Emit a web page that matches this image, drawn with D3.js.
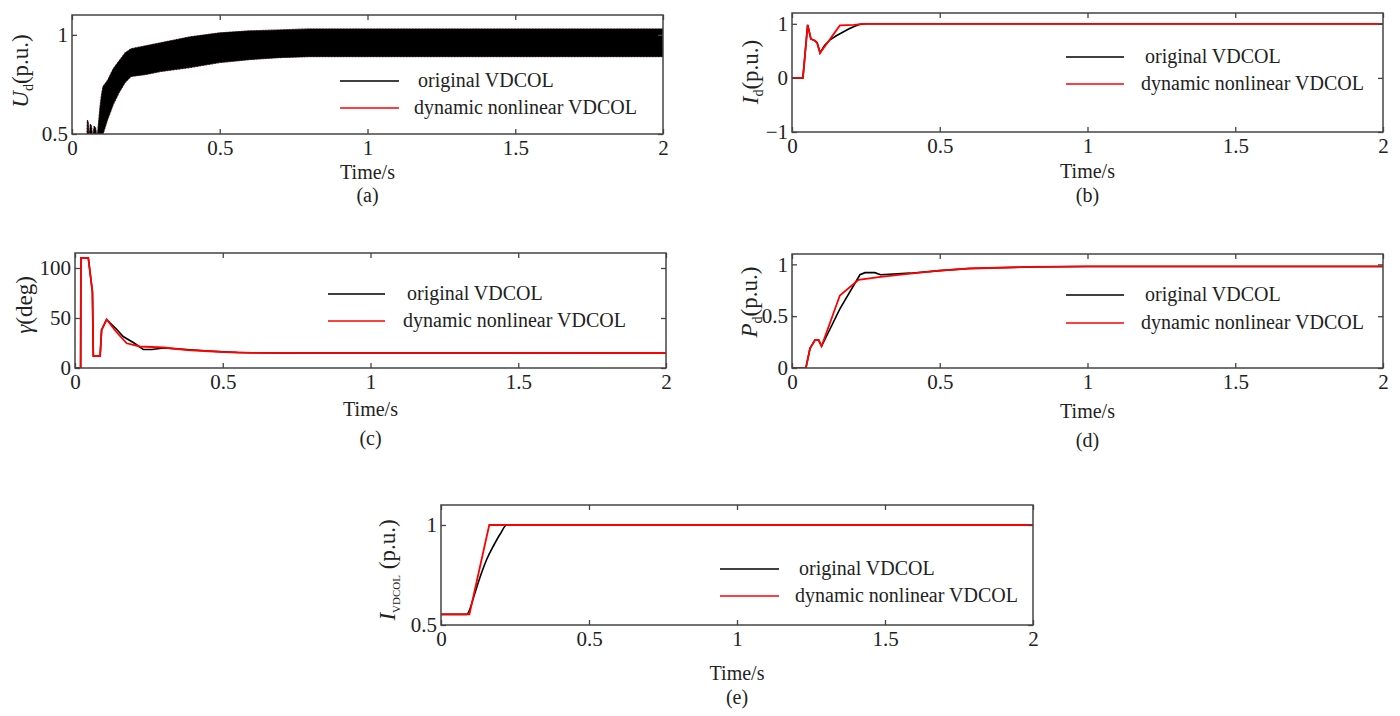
<!DOCTYPE html>
<html>
<head>
<meta charset="utf-8">
<title>VDCOL comparison</title>
<style>
  body{ margin:0; background:#fff; }
  svg{ display:block; font-family:"Liberation Serif","Times New Roman",serif; }
  .frame{ fill:none; stroke:#444; stroke-width:1.5px; }
  .tick line{ stroke:#444; stroke-width:1.3px; }
  .tick text{ fill:#222; font-size:21px; }
  .lbl{ fill:#222; font-size:20px; }
  .leg{ fill:#222; font-size:20px; }
</style>
</head>
<body>
<div id="chart"></div>
<script src="https://d3js.org/d3.v7.min.js"></script>
<script>
// shared time axis + legend
var timeTicks = [0, 0.5, 1, 1.5, 2];
var seriesNames = ["original VDCOL", "dynamic nonlinear VDCOL"];

// (a) Ud - fast ripple band, kept as upper / lower envelope
var udTime  = [0.05, 0.052, 0.055, 0.058, 0.062, 0.066, 0.07, 0.075, 0.08, 0.085, 0.09, 0.095, 0.1, 0.105, 0.12, 0.14, 0.16, 0.18, 0.2, 0.25, 0.3, 0.35, 0.4, 0.5, 0.6, 0.7, 0.8, 1.0, 1.5, 2];
var udUpper = [0.45, 0.57, 0.56, 0.48, 0.55, 0.54, 0.48, 0.54, 0.53, 0.48, 0.56, 0.64, 0.7, 0.74, 0.77, 0.83, 0.87, 0.91, 0.93, 0.945, 0.96, 0.975, 0.99, 1.01, 1.02, 1.025, 1.03, 1.03, 1.03, 1.03];
var udLower = [0.45, 0.45, 0.45, 0.45, 0.45, 0.45, 0.45, 0.45, 0.45, 0.45, 0.45, 0.45, 0.45, 0.5, 0.57, 0.65, 0.71, 0.76, 0.79, 0.8, 0.815, 0.825, 0.835, 0.86, 0.875, 0.885, 0.89, 0.89, 0.89, 0.89];

// (b) Id
var idTimeO = [0, 0.037, 0.053, 0.064, 0.077, 0.085, 0.095, 0.11, 0.13, 0.15, 0.17, 0.19, 0.21, 0.23, 0.25, 2];
var idOrig  = [0, 0, 0.98, 0.72, 0.69, 0.65, 0.46, 0.6, 0.71, 0.78, 0.84, 0.9, 0.95, 0.99, 1.0, 1.0];
var idTimeR = [0, 0.037, 0.053, 0.064, 0.077, 0.085, 0.095, 0.162, 0.21, 0.24, 2];
var idRed   = [0, 0, 0.98, 0.72, 0.69, 0.65, 0.46, 0.97, 0.98, 1.0, 1.0];

// (c) gamma
var gTimeO = [0, 0.019, 0.02, 0.045, 0.059, 0.062, 0.085, 0.09, 0.107, 0.14, 0.163, 0.2, 0.231, 0.26, 0.3, 0.35, 0.45, 0.55, 0.7, 1, 2];
var gOrig  = [0, 0, 110, 110, 76, 12, 12, 38, 48.5, 39, 31.5, 25, 18.5, 18.5, 20, 19, 17, 15.5, 15, 15, 15];
var gTimeR = [0, 0.019, 0.02, 0.045, 0.059, 0.062, 0.085, 0.09, 0.107, 0.14, 0.175, 0.22, 0.3, 0.38, 0.5, 0.6, 0.8, 2];
var gRed   = [0, 0, 110, 110, 76, 12, 12, 38, 48.5, 36, 24.7, 21.5, 20.5, 18, 16, 15.2, 14.8, 15];

// (d) Pd
var pTimeO = [0, 0.047, 0.061, 0.078, 0.09, 0.1, 0.162, 0.23, 0.247, 0.28, 0.3, 0.4, 0.5, 0.6, 0.8, 1, 2];
var pOrig  = [0, 0, 0.19, 0.27, 0.27, 0.21, 0.57, 0.9, 0.92, 0.92, 0.9, 0.915, 0.94, 0.96, 0.975, 0.98, 0.98];
var pTimeR = [0, 0.047, 0.061, 0.078, 0.09, 0.1, 0.162, 0.225, 0.3, 0.4, 0.5, 0.6, 0.8, 1, 2];
var pRed   = [0, 0, 0.19, 0.27, 0.27, 0.21, 0.7, 0.85, 0.88, 0.91, 0.94, 0.96, 0.975, 0.98, 0.98];

// (e) I_VDCOL
var ivTimeO = [0, 0.087, 0.1, 0.109, 0.12, 0.138, 0.155, 0.177, 0.2, 0.222, 2];
var ivOrig  = [0.553, 0.553, 0.59, 0.633, 0.685, 0.765, 0.83, 0.895, 0.955, 1.0, 1.0];
var ivTimeR = [0, 0.096, 0.163, 2];
var ivRed   = [0.553, 0.553, 1.0, 1.0];

function pairs(t, v){ return t.map(function(d, i){ return [d, v[i]]; }); }

var panels = [
  { id:"a", x:72, y:15, w:591, h:119, yDomain:[0.5, 1.1], yTicks:[0.5, 1],
    band:{ t:udTime, hi:udUpper, lo:udLower },
    yLab:{ main:"U", sub:"d", rest:"(p.u.)", x:20, y:71, subSize:14 },
    leg:{ x1:340, x2:399, tx:418, y1:81, y2:108 },
    timeY:179, capY:202 },
  { id:"b", x:792, y:13, w:591, h:119, yDomain:[-1, 1.2], yTicks:[-1, 0, 1],
    orig:pairs(idTimeO, idOrig), red:pairs(idTimeR, idRed),
    yLab:{ main:"I", sub:"d", rest:"(p.u.)", x:750, y:72, subSize:14 },
    leg:{ x1:1066, x2:1124, tx:1145, y1:57, y2:84 },
    timeY:178, capY:202 },
  { id:"c", x:75, y:253, w:591, h:115, yDomain:[0, 115], yTicks:[0, 50, 100],
    orig:pairs(gTimeO, gOrig), red:pairs(gTimeR, gRed),
    yLab:{ main:"\u03b3", sub:"", rest:"(deg)", x:24, y:305 },
    leg:{ x1:328, x2:385, tx:407, y1:294, y2:321 },
    timeY:416, capY:445 },
  { id:"d", x:792, y:254, w:591, h:114, yDomain:[0, 1.1], yTicks:[0, 0.5, 1],
    orig:pairs(pTimeO, pOrig), red:pairs(pTimeR, pRed),
    yLab:{ main:"P", sub:"d", rest:"(p.u.)", x:749, y:302, subSize:14 },
    leg:{ x1:1066, x2:1124, tx:1145, y1:295, y2:323 },
    timeY:418, capY:447 },
  { id:"e", x:441, y:505, w:592, h:120, yDomain:[0.5, 1.1], yTicks:[0.5, 1],
    orig:pairs(ivTimeO, ivOrig), red:pairs(ivTimeR, ivRed),
    yLab:{ main:"I", sub:"VDCOL", rest:" (p.u.)", x:387, y:570, subSize:11 },
    leg:{ x1:720, x2:779, tx:799, y1:569, y2:596 },
    timeY:680, capY:704 }
];

var svg = d3.select("#chart").append("svg")
    .attr("width", 1400)
    .attr("height", 716);

var fmt = function(d){ return String(d); };

panels.forEach(function(p){
  var x = d3.scaleLinear().domain([0, 2]).range([p.x, p.x + p.w]);
  var y = d3.scaleLinear().domain(p.yDomain).range([p.y + p.h, p.y]);

  svg.append("clipPath").attr("id", "clip-" + p.id)
    .append("rect").attr("x", p.x).attr("y", p.y).attr("width", p.w).attr("height", p.h);

  var g = svg.append("g").attr("clip-path", "url(#clip-" + p.id + ")");

  if (p.band) {
    var bd = p.band.t.map(function(t, i){ return { t:t, hi:p.band.hi[i], lo:p.band.lo[i] }; });
    var area = d3.area()
      .x(function(d){ return x(d.t); })
      .y0(function(d){ return y(d.lo); })
      .y1(function(d){ return y(d.hi); });
    // red band sits underneath, only its edge peeks out
    g.append("path").datum(bd).attr("d", area)
      .attr("fill", "none").attr("stroke", "#e03030").attr("stroke-width", 1.2).attr("stroke-dasharray", "1,2");
    g.append("path").datum(bd).attr("d", area)
      .attr("fill", "#000").attr("stroke", "#000").attr("stroke-width", 0.6);
  } else {
    var line = d3.line().curve(d3.curveMonotoneX)
      .x(function(d){ return x(d[0]); }).y(function(d){ return y(d[1]); });
    var straight = d3.line().x(function(d){ return x(d[0]); }).y(function(d){ return y(d[1]); });
    g.append("path").datum(p.orig).attr("d", p.id === "e" ? line : straight)
      .attr("fill", "none").attr("stroke", "#000").attr("stroke-width", 1.6);
    g.append("path").datum(p.red).attr("d", straight)
      .attr("fill", "none").attr("stroke", "#f00").attr("stroke-width", 1.8);
  }

  // axes, ticks pointing inward on all four sides
  svg.append("g").attr("transform", "translate(0," + (p.y + p.h) + ")")
    .call(d3.axisBottom(x).tickValues(timeTicks).tickFormat(fmt).tickSizeInner(-5).tickSizeOuter(0).tickPadding(6));
  svg.append("g").attr("transform", "translate(0," + p.y + ")")
    .call(d3.axisTop(x).tickValues(timeTicks).tickFormat("").tickSizeInner(-5).tickSizeOuter(0));
  svg.append("g").attr("transform", "translate(" + p.x + ",0)")
    .call(d3.axisLeft(y).tickValues(p.yTicks).tickFormat(function(d){ return d < 0 ? "\u2212" + (-d) : String(d); }).tickSizeInner(-5).tickSizeOuter(0).tickPadding(4));
  svg.append("g").attr("transform", "translate(" + (p.x + p.w) + ",0)")
    .call(d3.axisRight(y).tickValues(p.yTicks).tickFormat("").tickSizeInner(-5).tickSizeOuter(0));
  svg.selectAll(".domain").remove();
  svg.selectAll("g").filter(function(){ return this.getAttribute("font-family"); })
    .attr("font-family", null).attr("font-size", null);

  svg.append("rect").attr("class", "frame")
    .attr("x", p.x).attr("y", p.y).attr("width", p.w).attr("height", p.h);

  // legend
  var L = p.leg;
  [["#000", L.y1], ["#f00", L.y2]].forEach(function(s, i){
    svg.append("line").attr("x1", L.x1).attr("x2", L.x2).attr("y1", s[1]).attr("y2", s[1])
      .attr("stroke", s[0]).attr("stroke-width", 1.6);
    svg.append("text").attr("class", "leg")
      .attr("x", i === 0 ? L.tx : L.tx - 4).attr("y", s[1] + 6)
      .text(seriesNames[i]);
  });

  // x label and caption
  var cx = p.x + p.w / 2;
  svg.append("text").attr("class", "lbl").attr("text-anchor", "middle")
    .attr("x", cx).attr("y", p.timeY).text("Time/s");
  svg.append("text").attr("class", "lbl").attr("text-anchor", "middle")
    .attr("x", cx).attr("y", p.capY).text("(" + p.id + ")");

  // y label, rotated
  var yl = svg.append("text").attr("class", "lbl").attr("text-anchor", "middle")
    .attr("transform", "translate(" + p.yLab.x + "," + p.yLab.y + ") rotate(-90)")
    .attr("dy", "0.35em").style("font-size", "23px");
  yl.append("tspan").style("font-style", "italic").text(p.yLab.main);
  if (p.yLab.sub) {
    yl.append("tspan").attr("dy", 5).style("font-size", p.yLab.subSize + "px").text(p.yLab.sub);
    yl.append("tspan").attr("dy", -5).text(p.yLab.rest);
  } else {
    yl.append("tspan").text(p.yLab.rest);
  }
});
</script>
</body>
</html>
